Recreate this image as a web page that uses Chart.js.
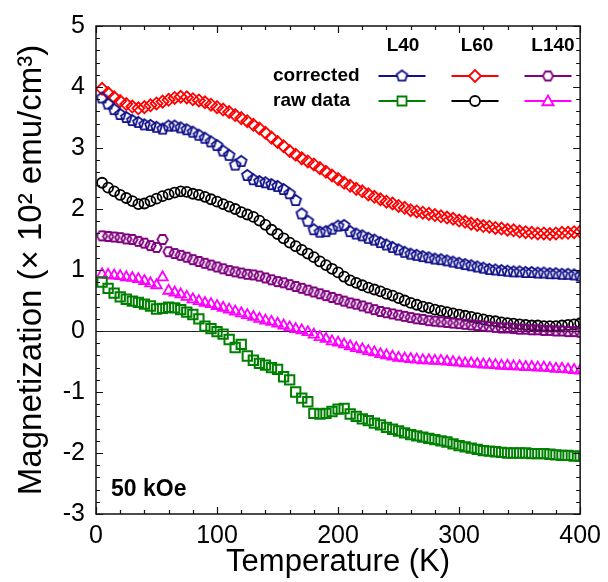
<!DOCTYPE html>
<html><head><meta charset="utf-8">
<script src="https://cdn.jsdelivr.net/npm/chart.js@4.4.1/dist/chart.umd.min.js"></script>
<style>html,body{margin:0;padding:0;background:#fff}#wrap{width:608px;height:582px}</style>
</head><body><div id="wrap"><canvas id="c" width="608" height="582"></canvas></div>
<script>
const temperatures = [5,10,15,20,25,30,35,40,45,50,55,60,65,70,75,80,85,90,95,100,105,110,115,120,125,130,135,140,145,150,155,160,165,170,175,180,185,190,195,200,205,210,215,220,225,230,235,240,245,250,255,260,265,270,275,280,285,290,295,300,305,310,315,320,325,330,335,340,345,350,355,360,365,370,375,380,385,390,395,400];

const l60Corrected = [3.97,3.90,3.83,3.77,3.72,3.68,3.65,3.67,3.70,3.73,3.76,3.79,3.82,3.84,3.83,3.80,3.78,3.75,3.71,3.67,3.63,3.59,3.54,3.49,3.44,3.38,3.32,3.25,3.17,3.10,3.03,2.95,2.89,2.83,2.78,2.73,2.67,2.61,2.55,2.49,2.43,2.38,2.33,2.29,2.24,2.20,2.16,2.12,2.09,2.05,2.02,1.98,1.96,1.94,1.92,1.90,1.88,1.86,1.84,1.81,1.79,1.76,1.74,1.72,1.71,1.69,1.68,1.66,1.65,1.63,1.62,1.61,1.60,1.60,1.59,1.60,1.61,1.61,1.62,1.63];

const l40Corrected = [3.82,3.72,3.63,3.55,3.50,3.45,3.42,3.38,3.37,3.34,3.31,3.36,3.36,3.33,3.30,3.26,3.21,3.16,3.10,3.04,2.95,2.88,2.72,2.78,2.55,2.48,2.45,2.43,2.40,2.37,2.32,2.25,2.14,1.92,1.80,1.66,1.62,1.63,1.67,1.72,1.73,1.63,1.59,1.56,1.52,1.49,1.45,1.41,1.37,1.33,1.29,1.26,1.24,1.22,1.20,1.18,1.17,1.15,1.13,1.11,1.09,1.07,1.05,1.03,1.01,1.00,0.99,0.98,0.97,0.97,0.96,0.96,0.95,0.95,0.94,0.94,0.93,0.93,0.92,0.90];

const l60Raw = [2.43,2.35,2.29,2.23,2.18,2.13,2.08,2.09,2.13,2.17,2.21,2.24,2.27,2.29,2.28,2.25,2.23,2.20,2.16,2.12,2.08,2.04,2.00,1.95,1.91,1.87,1.81,1.74,1.66,1.59,1.52,1.45,1.39,1.33,1.27,1.21,1.14,1.08,1.02,0.96,0.89,0.83,0.79,0.75,0.71,0.68,0.65,0.61,0.58,0.54,0.50,0.46,0.43,0.40,0.38,0.35,0.33,0.31,0.29,0.27,0.25,0.23,0.21,0.19,0.17,0.16,0.14,0.13,0.12,0.11,0.10,0.09,0.09,0.08,0.08,0.08,0.09,0.10,0.11,0.13];

const l140Corrected = [1.56,1.55,1.54,1.53,1.51,1.50,1.47,1.44,1.40,1.37,1.50,1.30,1.27,1.24,1.21,1.17,1.14,1.11,1.08,1.05,1.02,0.99,0.97,0.95,0.93,0.92,0.90,0.87,0.84,0.81,0.79,0.76,0.73,0.70,0.67,0.64,0.61,0.58,0.55,0.52,0.49,0.46,0.44,0.41,0.38,0.35,0.32,0.30,0.28,0.26,0.24,0.22,0.20,0.19,0.17,0.16,0.15,0.14,0.13,0.12,0.11,0.10,0.09,0.08,0.07,0.06,0.05,0.05,0.04,0.03,0.03,0.02,0.02,0.01,0.01,0.00,0.00,-0.01,-0.01,-0.02];

const l140Raw = [0.93,0.92,0.91,0.90,0.88,0.87,0.85,0.82,0.78,0.75,0.88,0.66,0.63,0.60,0.56,0.52,0.49,0.46,0.44,0.41,0.38,0.35,0.32,0.29,0.26,0.23,0.20,0.17,0.15,0.12,0.09,0.06,0.03,0.01,-0.02,-0.06,-0.10,-0.13,-0.17,-0.19,-0.22,-0.25,-0.28,-0.30,-0.33,-0.35,-0.38,-0.40,-0.42,-0.44,-0.45,-0.46,-0.47,-0.48,-0.48,-0.49,-0.49,-0.50,-0.51,-0.52,-0.53,-0.53,-0.54,-0.55,-0.55,-0.56,-0.57,-0.57,-0.58,-0.58,-0.59,-0.59,-0.60,-0.60,-0.61,-0.62,-0.62,-0.63,-0.64,-0.65];

const l40Raw = [0.80,0.70,0.62,0.56,0.52,0.49,0.47,0.44,0.41,0.36,0.37,0.39,0.38,0.35,0.31,0.27,0.20,0.08,0.04,-0.01,-0.05,-0.14,-0.27,-0.22,-0.41,-0.48,-0.53,-0.56,-0.60,-0.63,-0.75,-0.80,-1.00,-1.10,-1.16,-1.35,-1.36,-1.35,-1.32,-1.28,-1.27,-1.36,-1.40,-1.44,-1.47,-1.51,-1.54,-1.58,-1.61,-1.64,-1.67,-1.70,-1.72,-1.74,-1.76,-1.78,-1.80,-1.82,-1.85,-1.88,-1.90,-1.92,-1.94,-1.96,-1.97,-1.98,-1.99,-2.00,-2.00,-2.00,-2.00,-2.01,-2.01,-2.01,-2.02,-2.03,-2.04,-2.04,-2.05,-2.05];

const xTicks = [0,100,200,300,400];
const yTicks = [-3,-2,-1,0,1,2,3,4,5];
const sampleNames = ['L40','L60','L140'];
const rowNames = ['corrected','raw data'];
const fieldLabel = '50 kOe';

const FONT = "'Liberation Sans', Arial, sans-serif";
const C = {navy:'#10108a', red:'#ff0000', purple:'#800080', green:'#008000', black:'#000000', magenta:'#ff00ff'};

function polyCanvas(n, r, color, lw, rot, fill){
  const s = Math.ceil(2*r + lw + 4);
  const c = document.createElement('canvas'); c.width = s; c.height = s;
  const g = c.getContext('2d');
  g.beginPath();
  for (let i=0;i<n;i++){ const a = rot + i*2*Math.PI/n; const px = s/2 + r*Math.cos(a), py = s/2 + r*Math.sin(a); i?g.lineTo(px,py):g.moveTo(px,py); }
  g.closePath();
  if (fill){ g.fillStyle = fill; g.fill(); }
  g.strokeStyle = color; g.lineWidth = lw; g.stroke();
  return c;
}
const pentagon = polyCanvas(5, 5.6, C.navy, 1.8, -Math.PI/2);
const hexagon = polyCanvas(6, 5.2, C.purple, 1.8, 0);
const pentagonL = polyCanvas(5, 5.6, C.navy, 1.8, -Math.PI/2, '#fff');
const hexagonL = polyCanvas(6, 5.2, C.purple, 1.8, 0, '#fff');

function pts(arr){ return temperatures.map((t,i)=>({x:t, y:arr[i]})); }
function ds(label, arr, color, style, radius, lw){
  return {label, data:pts(arr), showLine:false, borderColor:color, backgroundColor:'rgba(0,0,0,0)', pointStyle:style, pointRadius:radius, pointBorderWidth:lw, pointHoverRadius:radius};
}

const datasets = [
  ds('L40 raw data', l40Raw, C.green, 'rect', 6.6, 2),
  ds('L140 raw data', l140Raw, C.magenta, 'triangle', 6, 1.8),
  ds('L140 corrected', l140Corrected, C.purple, hexagon, 5, 1.8),
  ds('L60 raw data', l60Raw, C.black, 'circle', 5, 1.8),
  ds('L40 corrected', l40Corrected, C.navy, pentagon, 5, 1.8),
  ds('L60 corrected', l60Corrected, C.red, 'rectRot', 6, 1.8)
];

function legendMarker(ctx, kind, color, x, y){
  ctx.save(); ctx.strokeStyle = color; ctx.fillStyle = '#fff'; ctx.lineWidth = 1.8;
  ctx.beginPath();
  if (kind==='rectRot'){ const r=6; ctx.moveTo(x-r,y); ctx.lineTo(x,y-r); ctx.lineTo(x+r,y); ctx.lineTo(x,y+r); ctx.closePath(); }
  else if (kind==='rect'){ const h=4.5; ctx.rect(x-h,y-h,2*h,2*h); }
  else if (kind==='circle'){ ctx.arc(x,y,5,0,2*Math.PI); }
  else if (kind==='triangle'){ const r=6.5; for(let i=0;i<3;i++){ const a=-Math.PI/2+i*2*Math.PI/3; const px=x+r*Math.cos(a), py=y+1+r*Math.sin(a); i?ctx.lineTo(px,py):ctx.moveTo(px,py);} ctx.closePath(); }
  if (typeof kind === 'string'){ ctx.fill(); ctx.stroke(); }
  else { ctx.drawImage(kind, x-kind.width/2, y-kind.height/2); }
  ctx.restore();
}

const decor = {
  id:'decor',
  beforeDatasetsDraw(chart){
    const {ctx, chartArea:a, scales:{y}} = chart;
    const y0 = Math.round(y.getPixelForValue(0)) + 0.5;
    ctx.save(); ctx.strokeStyle = '#222'; ctx.lineWidth = 1.2;
    ctx.beginPath(); ctx.moveTo(a.left, y0); ctx.lineTo(a.right, y0); ctx.stroke(); ctx.restore();
  },
  afterDraw(chart){
    const {ctx, chartArea:a, scales:{x,y}} = chart;
    ctx.save();
    ctx.strokeStyle = '#111'; ctx.lineWidth = 1.5;
    ctx.strokeRect(a.left, a.top, a.right-a.left, a.bottom-a.top);
    ctx.lineWidth = 1.2;
    ctx.beginPath();
    for (let v=0; v<=400; v+=20){
      const px = Math.round(x.getPixelForValue(v))+0.5; const L = (v%100===0)?7:4;
      ctx.moveTo(px,a.bottom); ctx.lineTo(px,a.bottom-L);
      ctx.moveTo(px,a.top); ctx.lineTo(px,a.top+L);
    }
    for (let k=-15; k<=25; k++){
      const v = k/5; const py = Math.round(y.getPixelForValue(v))+0.5; const L = (k%5===0)?7:4;
      ctx.moveTo(a.left,py); ctx.lineTo(a.left+L,py);
      ctx.moveTo(a.right,py); ctx.lineTo(a.right-L,py);
    }
    ctx.stroke();
    // legend table
    ctx.fillStyle = '#000';
    ctx.font = "bold 19px " + FONT;
    ctx.textBaseline = 'middle';
    ctx.textAlign = 'center';
    const colX = [402, 475, 548];
    const headX = [403, 477, 553];
    sampleNames.forEach((n,i)=>ctx.fillText(n, headX[i], 46));
    ctx.textAlign = 'left';
    const rowY = [76, 101];
    rowNames.forEach((n,i)=>ctx.fillText(n, 273, rowY[i]));
    const styles = [[[C.navy,pentagonL],[C.red,'rectRot'],[C.purple,hexagonL]],[[C.green,'rect'],[C.black,'circle'],[C.magenta,'triangle']]];
    styles.forEach((row,ri)=>row.forEach(([col,kind],ci)=>{
      const cx = colX[ci], cy = rowY[ri];
      ctx.strokeStyle = col; ctx.lineWidth = 2;
      ctx.beginPath(); ctx.moveTo(cx-23.5, cy); ctx.lineTo(cx+23.5, cy); ctx.stroke();
      legendMarker(ctx, kind, col, cx, cy);
    }));
    ctx.fillStyle = '#000';
    ctx.font = "bold 23px " + FONT;
    ctx.textAlign = 'left';
    ctx.fillText(fieldLabel, 111, 490);
    ctx.restore();
  }
};

new Chart(document.getElementById('c'), {
  type:'scatter',
  data:{datasets},
  plugins:[decor],
  options:{
    responsive:false, animation:false, devicePixelRatio:1,
    layout:{padding:{left:0, top:22, right:24, bottom:0}},
    plugins:{legend:{display:false}, tooltip:{enabled:false}},
    scales:{
      x:{type:'linear', min:0, max:400,
        afterFit(s){ s.height = 68; },
        afterBuildTicks(s){ s.ticks = xTicks.map(v=>({value:v})); },
        grid:{display:false, drawTicks:false}, border:{display:false},
        ticks:{padding:7, color:'#000', maxRotation:0, font:{size:25, family:FONT}},
        title:{display:true, text:'Temperature (K)', color:'#000', font:{size:31, family:FONT}, padding:{top:0,bottom:1}}
      },
      y:{type:'linear', min:-3, max:5,
        afterFit(s){ s.width = 96; },
        afterBuildTicks(s){ s.ticks = yTicks.map(v=>({value:v})); },
        grid:{display:false, drawTicks:false}, border:{display:false},
        ticks:{padding:11, color:'#000', font:{size:25, family:FONT}},
        title:{display:true, text:'Magnetization (× 10² emu/cm³)', color:'#000', font:{size:33, family:FONT}, padding:{top:12,bottom:0}}
      }
    }
  }
});
</script></body></html>
